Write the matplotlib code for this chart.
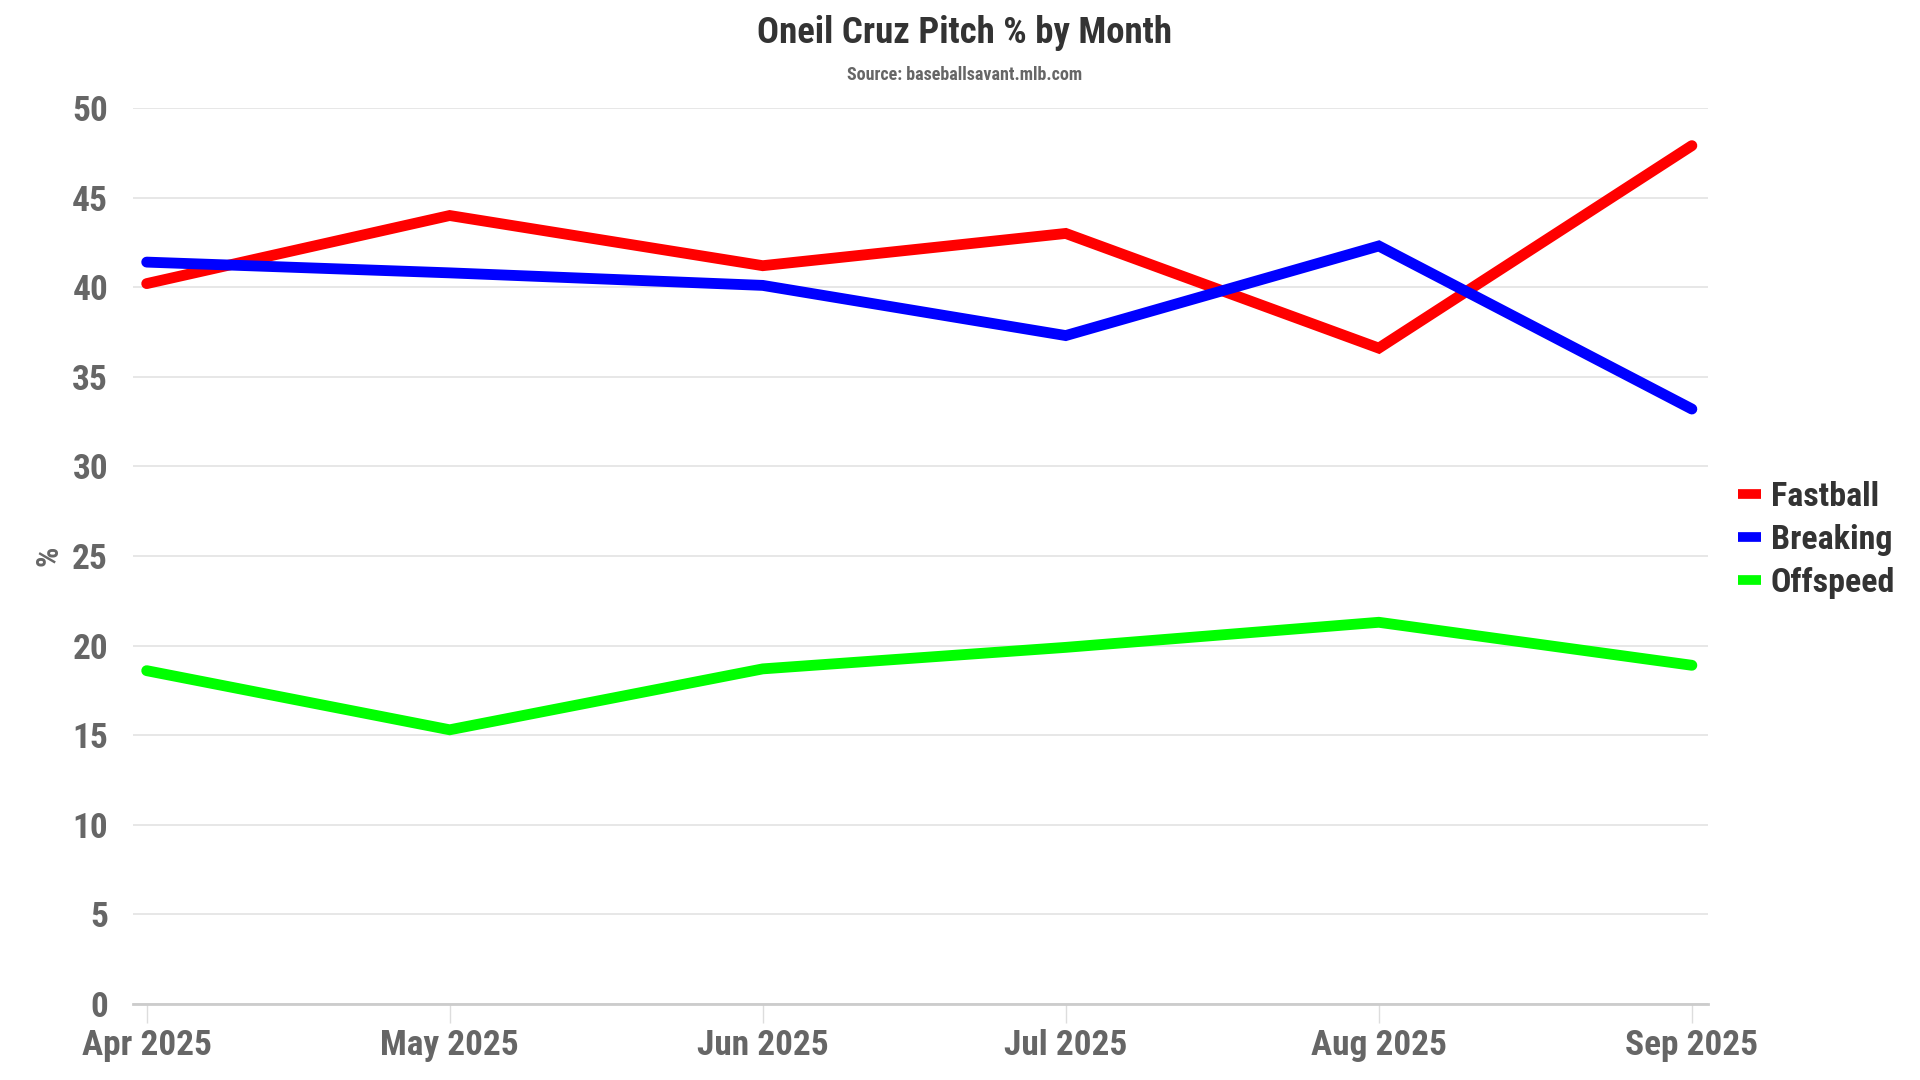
import matplotlib
matplotlib.use('Agg')
import matplotlib.pyplot as plt
from matplotlib import font_manager
from matplotlib.lines import Line2D
from datetime import datetime, timedelta

months = ['Apr 2025', 'May 2025', 'Jun 2025', 'Jul 2025', 'Aug 2025', 'Sep 2025']
dates = [datetime(2025, m, 1) for m in range(4, 10)]
fastball = [40.2, 44.0, 41.2, 43.0, 36.6, 47.9]
breaking = [41.4, 40.8, 40.1, 37.3, 42.3, 33.2]
offspeed = [18.6, 15.3, 18.7, 19.9, 21.3, 18.9]
series = [('Fastball', fastball, '#ff0000'),
          ('Breaking', breaking, '#0000ff'),
          ('Offspeed', offspeed, '#00ff00')]

names = {f.name for f in font_manager.fontManager.ttflist}
family = 'Roboto'
for cand in ['Roboto Condensed', 'Liberation Sans Narrow', 'Roboto']:
    if cand in names:
        family = cand
        break
plt.rcParams['font.family'] = [family, 'DejaVu Sans']

fig = plt.figure(figsize=(19.2, 10.8), dpi=100)
ax = fig.add_axes([0.0693, 0.0704, 0.8203, 0.8296])

for name, vals, col in series:
    ax.plot(dates, vals, color=col, linewidth=7.8, solid_capstyle='round',
            solid_joinstyle='miter', label=name)

ax.set_ylim(0, 50)
ax.set_yticks(range(0, 51, 5))
ax.set_xlim(dates[0] - timedelta(days=1.35), dates[-1] + timedelta(days=1.6))
ax.set_xticks(dates)
ax.set_xticklabels(months)

ax.grid(axis='y', color='#e3e3e3', linewidth=1.2)
ax.set_axisbelow(True)
for s in ['top', 'right', 'left']:
    ax.spines[s].set_visible(False)
ax.spines['bottom'].set_color('#cccccc')
ax.spines['bottom'].set_linewidth(2)
ax.tick_params(axis='y', length=0, pad=18, labelsize=25.5, labelcolor='#666666')
ax.tick_params(axis='x', length=14, width=1, color='#dddddd', pad=4,
               labelsize=25.5, labelcolor='#666666')
for lbl in ax.get_xticklabels() + ax.get_yticklabels():
    lbl.set_fontweight('bold')

ax.set_ylabel('%', fontsize=23, fontweight='bold', color='#666666', labelpad=6)

fig.text(0.5025, 0.969, 'Oneil Cruz Pitch % by Month', ha='center', va='center',
         fontsize=26.5, fontweight='bold', color='#333333')
fig.text(0.5025, 0.931, 'Source: baseballsavant.mlb.com', ha='center', va='center',
         fontsize=13, fontweight='bold', color='#666666')

handles = [Line2D([0], [0], color=c, linewidth=7, solid_capstyle='butt')
           for _, _, c in series]
leg = fig.legend(handles, [n for n, _, _ in series], loc='center left',
                 bbox_to_anchor=(0.905, 0.5), frameon=False, handlelength=0.68,
                 handletextpad=0.3, labelspacing=0.33, borderpad=0,
                 borderaxespad=0, prop={'size': 24.5, 'weight': 'bold'})
for t in leg.get_texts():
    t.set_color('#333333')

fig.savefig('out.png', dpi=100)
